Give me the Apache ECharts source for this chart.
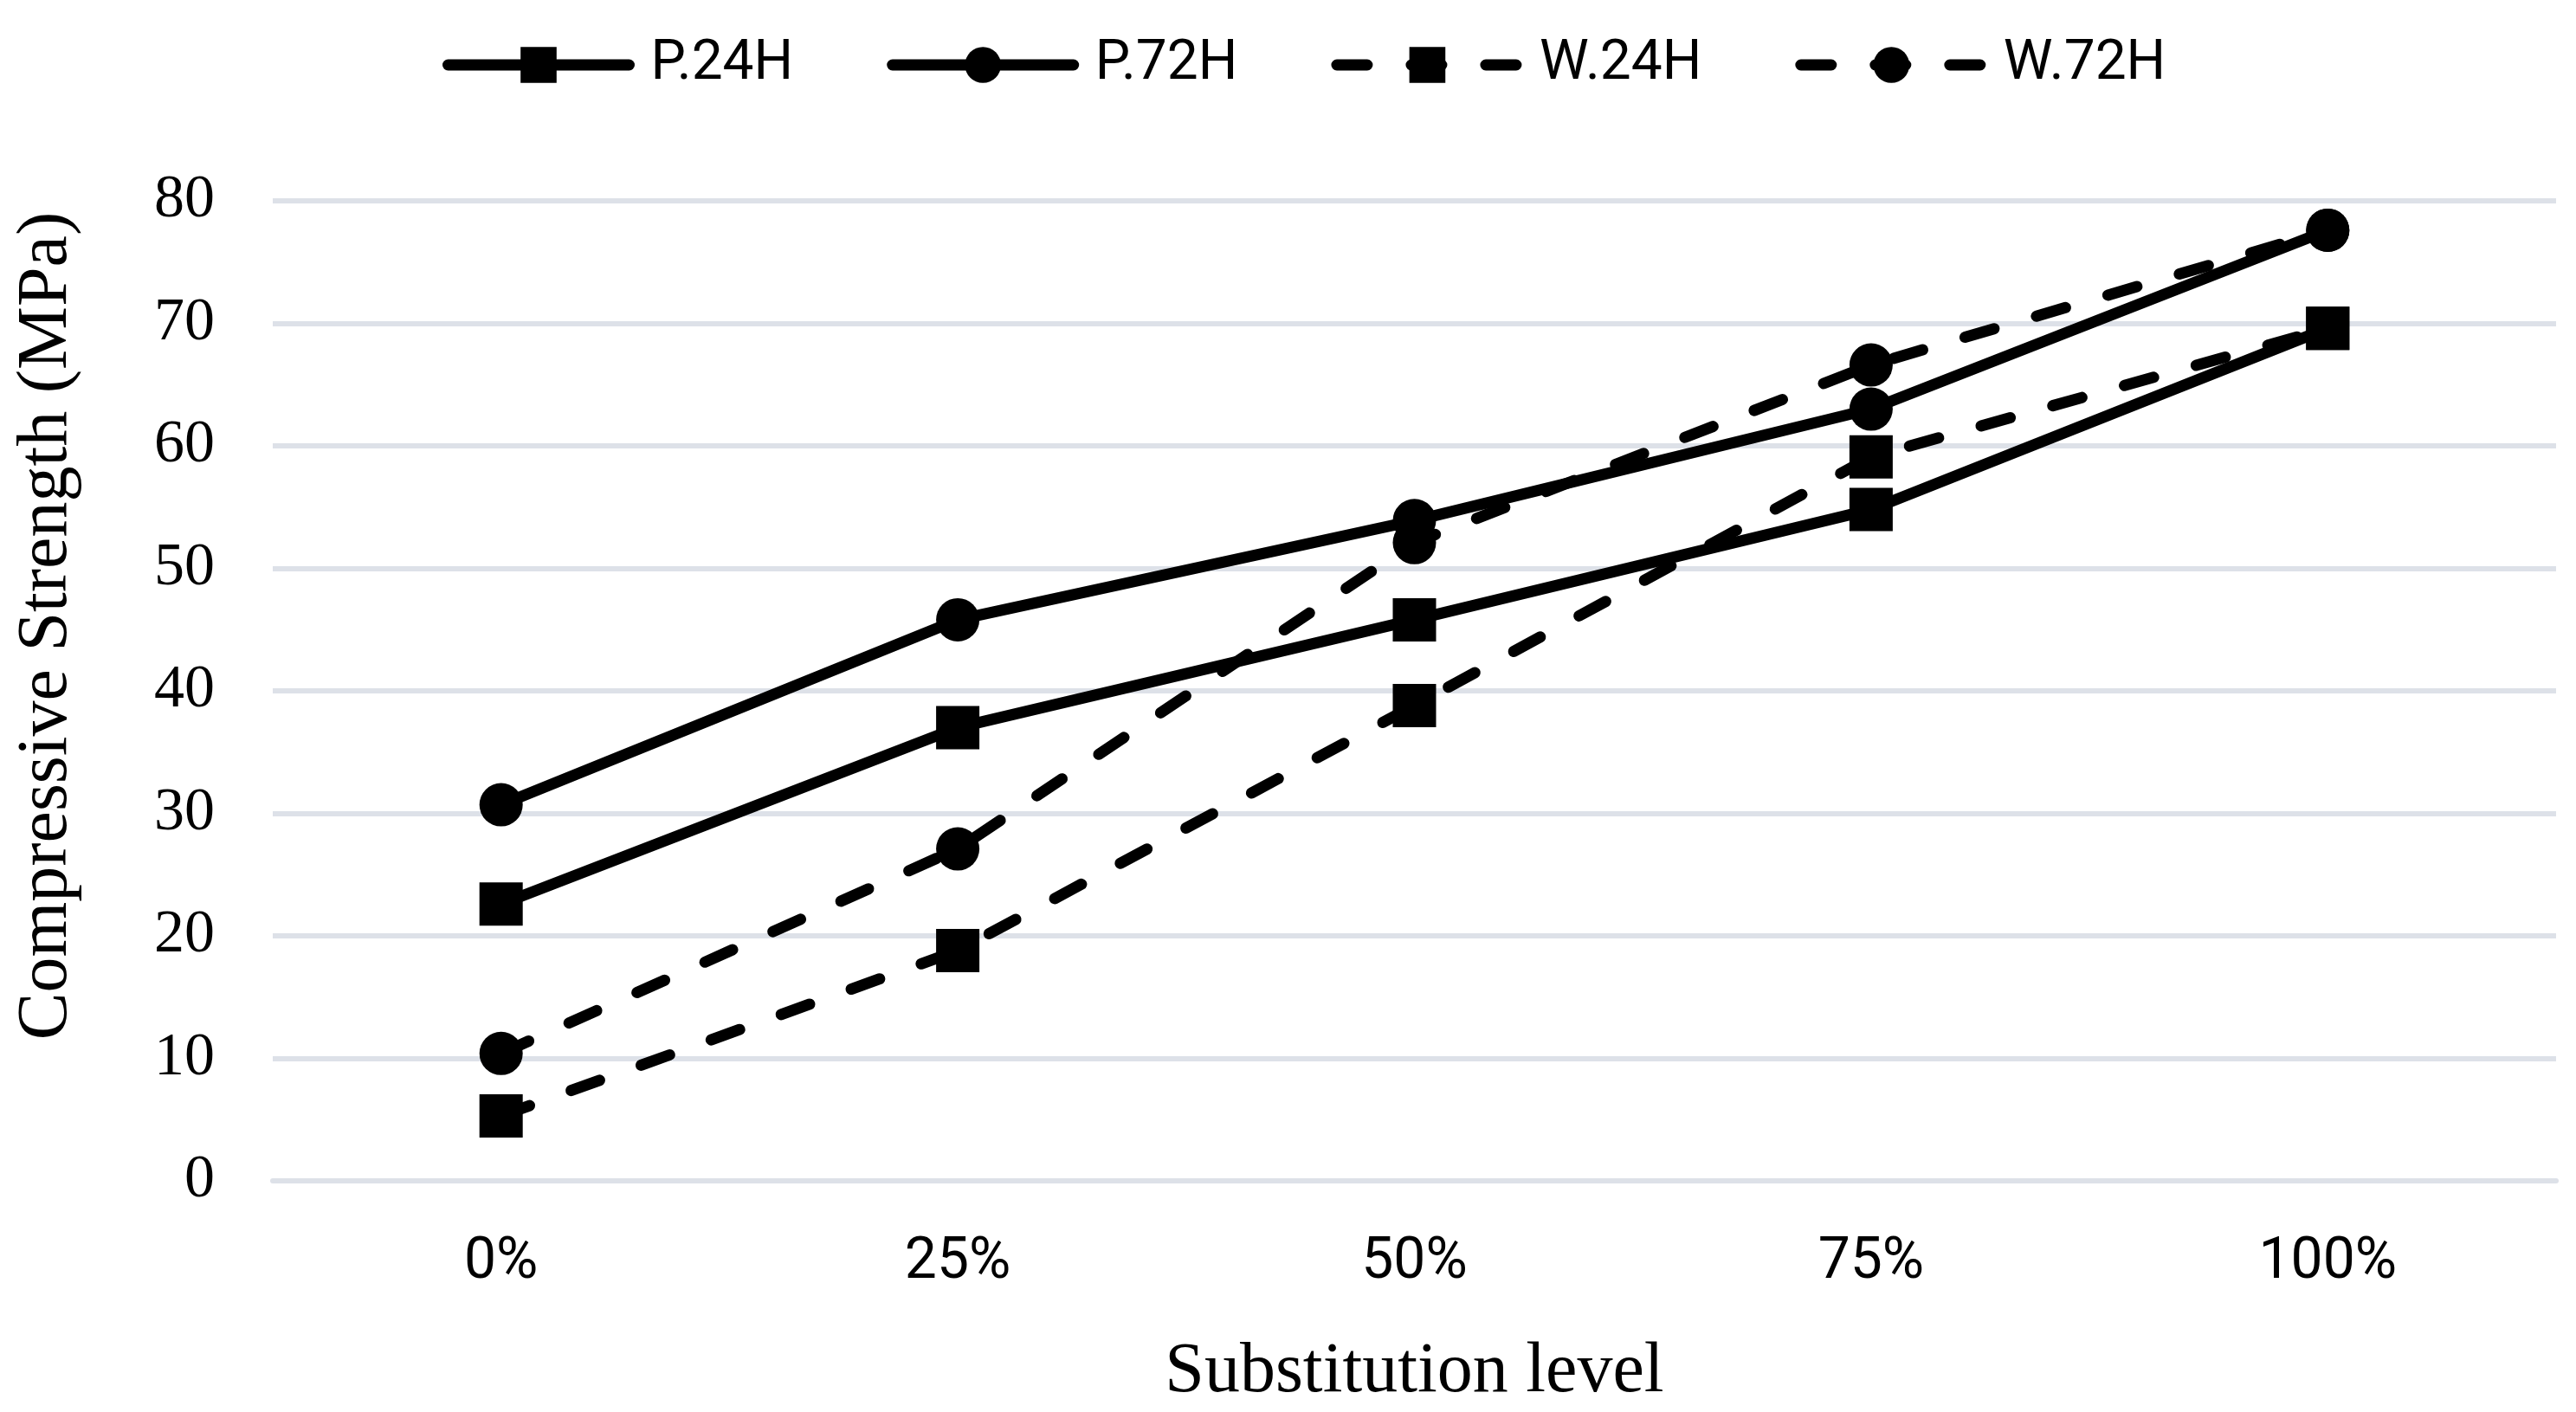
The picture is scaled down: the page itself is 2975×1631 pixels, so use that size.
<!DOCTYPE html>
<html>
<head>
<meta charset="utf-8">
<script src="https://cdn.jsdelivr.net/npm/echarts@6/dist/echarts.min.js"></script>
<style>
html,body{margin:0;padding:0;background:#fff;}
#chart{width:2975px;height:1631px;}
</style>
</head>
<body>
<div id="chart"></div>
<script>
const categories = ['0%', '25%', '50%', '75%', '100%'];
const p24 = [22.6, 37.0, 45.8, 54.8, 69.6];
const p72 = [30.7, 45.8, 53.9, 63.0, 77.6];
const w24 = [5.3, 18.8, 38.8, 59.1, 69.6];
const w72 = [10.4, 27.1, 52.1, 66.6, 77.6];
const yTicks = { min: 0, max: 80, interval: 10 };
const yTitle = 'Compressive Strength (MPa)';
const xTitle = 'Substitution level';
const seriesNames = ['P.24H', 'P.72H', 'W.24H', 'W.72H'];

const chart = echarts.init(document.getElementById('chart'));
const DASH = [35, 51];

function mk(name, data, symbol, dashed) {
  return {
    name: name,
    type: 'line',
    data: data,
    symbol: symbol,
    symbolSize: 50,
    showSymbol: true,
    lineStyle: {
      color: '#000',
      width: 13,
      type: dashed ? DASH : 'solid',
      cap: 'round'
    },
    itemStyle: { color: '#000', borderWidth: 0 },
    emphasis: { disabled: true },
    z: 3
  };
}

function legendItem(name, dashed) {
  return {
    name: name,
    lineStyle: { color: '#000', width: 13, type: dashed ? DASH : 'solid', cap: 'round' },
    itemStyle: { color: '#000', borderWidth: 0 }
  };
}

chart.setOption({
  animation: false,
  backgroundColor: '#fff',
  grid: { left: 315, right: 23, top: 232, bottom: 264, containLabel: false },
  legend: {
    top: 38,
    left: 506,
    itemWidth: 209,
    itemHeight: 52,
    itemGap: 108,
    textStyle: {
      fontFamily: 'Roboto',
      fontSize: 64,
      color: '#000',
      padding: [0, 0, 0, 20]
    },
    data: [
      legendItem(seriesNames[0], false),
      legendItem(seriesNames[1], false),
      legendItem(seriesNames[2], true),
      legendItem(seriesNames[3], true)
    ]
  },
  xAxis: {
    type: 'category',
    data: categories,
    boundaryGap: true,
    name: xTitle,
    nameLocation: 'middle',
    nameGap: 180,
    nameTextStyle: { fontFamily: 'Liberation Serif', fontSize: 82, color: '#000' },
    axisLine: { show: true, lineStyle: { color: '#dde1e8', width: 6 } },
    axisTick: { show: false },
    axisLabel: { fontFamily: 'Roboto', fontSize: 66, color: '#000', margin: 62 },
    splitLine: { show: false }
  },
  yAxis: {
    type: 'value',
    min: yTicks.min,
    max: yTicks.max,
    interval: yTicks.interval,
    name: yTitle,
    nameLocation: 'middle',
    nameGap: 220,
    nameRotate: 90,
    nameTextStyle: { fontFamily: 'Liberation Serif', fontSize: 82, color: '#000', padding: [0, 0, 0, 150] },
    axisLine: { show: false },
    axisTick: { show: false },
    axisLabel: { fontFamily: 'Liberation Serif', fontSize: 70, color: '#000', margin: 67 },
    splitLine: { show: true, lineStyle: { color: '#dde1e8', width: 6 } }
  },
  series: [
    mk(seriesNames[0], p24, 'rect', false),
    mk(seriesNames[1], p72, 'circle', false),
    mk(seriesNames[2], w24, 'rect', true),
    mk(seriesNames[3], w72, 'circle', true)
  ]
});
</script>
</body>
</html>
